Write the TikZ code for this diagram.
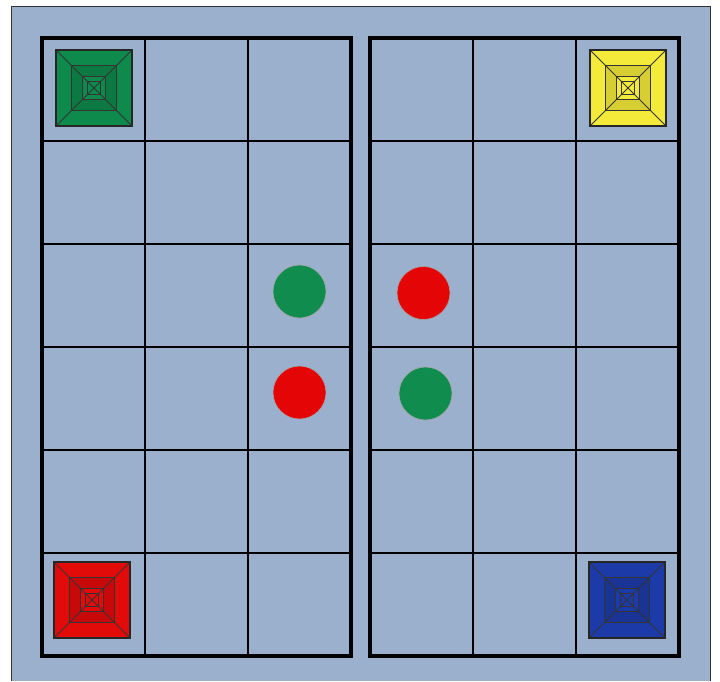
\documentclass[tikz,border=0pt]{standalone}
\usepackage{xcolor}
\usepackage{tikz}
\usetikzlibrary{calc}

\definecolor{tablebg}{HTML}{9AB0CD}
\definecolor{homegreen}{HTML}{0E8A4C}
\definecolor{homeyellow}{HTML}{F4EA3A}
\definecolor{homered}{HTML}{E30A0A}
\definecolor{homeblue}{HTML}{1C3BA8}
\definecolor{pawngreen}{HTML}{0F8C4E}
\definecolor{pawnred}{HTML}{E40606}

\begin{document}
\begin{tikzpicture}[
  x=1pt, y=-1pt,
  board/.style={line width=3.8pt, draw=black},
  gridline/.style={line width=1.1pt, draw=black},
  home/.style={draw=black!85, line width=1.5pt, minimum size=75pt,
               inner sep=0pt},
  ring/.style={draw=black!80, line width=1pt},
  pawn/.style={circle, minimum size=53pt, inner sep=0pt,
               draw=black!35, line width=0.6pt}
]
  \useasboundingbox (0,0) rectangle (720,681);
  % table
  \fill[tablebg] (11,6) rectangle (710,681);
  \draw[line width=1pt, black!80] (11,681) -- (11,6) -- (710,6) -- (710,681);

  % two boards, 3 x 6 cells of 103
  \foreach \bx in {42,370} {
    \foreach \i in {1,2}
      \draw[gridline] (\bx+\i*103,38) -- (\bx+\i*103,656);
    \foreach \j in {1,...,5}
      \draw[gridline] (\bx,38+\j*103) -- (\bx+309,38+\j*103);
    \draw[board] (\bx,38) rectangle (\bx+309,656);
  }

  % home squares
  \foreach \nm/\cx/\cy/\col in {hgreen/94/88/homegreen, hyellow/628/88/homeyellow,
                                hred/92/600/homered, hblue/627/600/homeblue} {
    \node[home, fill=\col] (\nm) at (\cx,\cy) {};
    \fill[\col!88!black] ($(\nm.center)!0.6!(\nm.north west)$)
      rectangle ($(\nm.center)!0.6!(\nm.south east)$);
    \fill[\col] ($(\nm.center)!0.3!(\nm.north west)$)
      rectangle ($(\nm.center)!0.3!(\nm.south east)$);
    \foreach \f in {0.6,0.3,0.16}
      \draw[ring] ($(\nm.center)!\f!(\nm.north west)$)
        rectangle ($(\nm.center)!\f!(\nm.south east)$);
    \draw[ring] (\nm.north west) -- (\nm.south east)
                (\nm.north east) -- (\nm.south west);
    \draw[home, fill=none] (\nm.north west) rectangle (\nm.south east);
  }

  % pawns
  \node[pawn, fill=pawngreen] (pg1) at (299.5,291.5) {};
  \node[pawn, fill=pawnred]   (pr1) at (299.5,392.5) {};
  \node[pawn, fill=pawnred]   (pr2) at (423.5,293) {};
  \node[pawn, fill=pawngreen] (pg2) at (425.5,393.5) {};
\end{tikzpicture}
\end{document}
